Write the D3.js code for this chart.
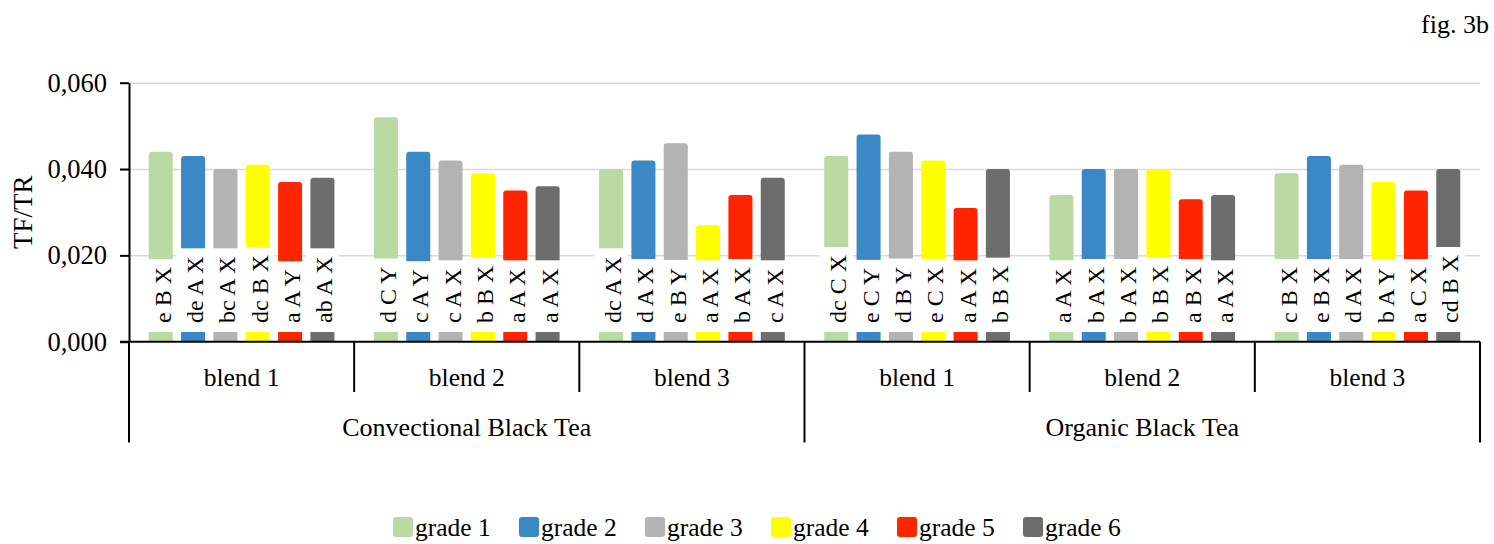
<!DOCTYPE html>
<html>
<head>
    <meta charset="utf-8">
    <title>fig. 3b TF/TR</title>
    <script src="https://d3js.org/d3.v7.min.js"></script>
    <style>
        body { margin: 0; background: #fff; }
        svg text { font-family: "Liberation Serif", "Times New Roman", serif; fill: #000; }
        .grid line { stroke: #d9d9d9; stroke-width: 1.5px; }
        .grid path { display: none; }
    </style>
</head>
<body>
    <div id="chart"></div>

    <script>
        // 数据
        const teaTypes = ["Convectional Black Tea", "Organic Black Tea"];
        const blends = ["blend 1", "blend 2", "blend 3"];
        const grades = ["grade 1", "grade 2", "grade 3", "grade 4", "grade 5", "grade 6"];
        const colors = ["#bbd9a3", "#3a88c5", "#b3b3b3", "#ffff00", "#ff2500", "#6d6d6d"];

        // 每组 grade 1..6 的 TF/TR 值
        const conv1 = [0.044, 0.043, 0.040, 0.041, 0.037, 0.038];
        const conv2 = [0.052, 0.044, 0.042, 0.039, 0.035, 0.036];
        const conv3 = [0.040, 0.042, 0.046, 0.027, 0.034, 0.038];
        const org1 = [0.043, 0.048, 0.044, 0.042, 0.031, 0.040];
        const org2 = [0.034, 0.040, 0.040, 0.040, 0.033, 0.034];
        const org3 = [0.039, 0.043, 0.041, 0.037, 0.035, 0.040];

        // 显著性字母
        const lab1 = ["e B X", "de A X", "bc A X", "dc B X", "a A Y", "ab A X"];
        const lab2 = ["d C Y", "c A Y", "c A X", "b B X", "a A X", "a A X"];
        const lab3 = ["dc A X", "d A X", "e B Y", "a A X", "b A X", "c A X"];
        const lab4 = ["dc C X", "e C Y", "d B Y", "e C X", "a A X", "b B X"];
        const lab5 = ["a A X", "b A X", "b A X", "b B X", "a B X", "a A X"];
        const lab6 = ["c B X", "e B X", "d A X", "b A Y", "a C X", "cd B X"];

        const yTicks = [0, 0.02, 0.04, 0.06];

        const groups = [
            { tea: teaTypes[0], blend: blends[0], values: conv1, labels: lab1 },
            { tea: teaTypes[0], blend: blends[1], values: conv2, labels: lab2 },
            { tea: teaTypes[0], blend: blends[2], values: conv3, labels: lab3 },
            { tea: teaTypes[1], blend: blends[0], values: org1, labels: lab4 },
            { tea: teaTypes[1], blend: blends[1], values: org2, labels: lab5 },
            { tea: teaTypes[1], blend: blends[2], values: org3, labels: lab6 }
        ];
        groups.forEach((g, i) => g.key = "g" + i);

        const width = 1494;
        const height = 544;
        const plotLeft = 129, plotRight = 1480, plotTop = 82.7, base = 341.7;

        const svg = d3.select("#chart")
            .append("svg")
            .attr("width", width)
            .attr("height", height);

        const x0 = d3.scaleBand()
            .domain(groups.map(d => d.key))
            .range([plotLeft, plotRight])
            .padding(0);

        const x1 = d3.scaleBand()
            .domain(grades)
            .range([0, x0.bandwidth()])
            .paddingInner(0.257)
            .paddingOuter(0.61);

        const y = d3.scaleLinear()
            .domain([0, 0.06])
            .range([base, plotTop]);

        const fmt = v => d3.format(".3f")(v).replace(".", ",");

        // 网格线
        svg.append("g")
            .attr("class", "grid")
            .attr("transform", `translate(${plotLeft},0)`)
            .call(d3.axisLeft(y).tickValues(yTicks.slice(1)).tickSize(-(plotRight - plotLeft)).tickFormat(""));

        // 柱子
        const bars = svg.append("g")
            .selectAll("g")
            .data(groups)
            .join("g")
            .attr("transform", d => `translate(${x0(d.key)},0)`);

        bars.selectAll("path")
            .data(d => d.values.map((v, i) => ({ v, i })))
            .join("path")
            .attr("fill", d => colors[d.i])
            .attr("d", d => {
                const x = x1(grades[d.i]), w = x1.bandwidth(), yt = y(d.v), r = 3;
                return `M${x},${base}V${yt + r}Q${x},${yt} ${x + r},${yt}H${x + w - r}Q${x + w},${yt} ${x + w},${yt + r}V${base}Z`;
            });

        // 标签（白底）
        const labelFont = 24;
        const boxBottom = 332;
        const labelG = bars.selectAll("g.lab")
            .data(d => d.labels.map((t, i) => ({ t, i })))
            .join("g")
            .attr("class", "lab");

        labelG.append("rect").attr("fill", "#fff");
        labelG.append("text")
            .attr("font-size", labelFont)
            .attr("transform", d => `translate(${x1(grades[d.i]) + x1.bandwidth() / 2 + 10},${boxBottom - 9}) rotate(-90)`)
            .text(d => d.t);

        labelG.each(function(d) {
            const g = d3.select(this);
            const len = g.select("text").node().getComputedTextLength();
            const cx = x1(grades[d.i]) + x1.bandwidth() / 2;
            g.select("rect")
                .attr("x", cx - x1.step() / 2 - 0.5)
                .attr("width", x1.step() + 1)
                .attr("y", boxBottom - len - 17)
                .attr("height", len + 17);
        });

        // Y 轴
        const yAxis = svg.append("g")
            .attr("transform", `translate(${plotLeft},0)`)
            .call(d3.axisLeft(y).tickValues(yTicks).tickSize(9).tickSizeOuter(0).tickPadding(13).tickFormat(fmt));
        yAxis.select(".domain").attr("stroke", "#000").attr("stroke-width", 2);
        yAxis.selectAll(".tick line").attr("stroke", "#000").attr("stroke-width", 2);
        yAxis.selectAll(".tick text")
            .attr("font-size", 26.5)
            .attr("font-family", "Liberation Serif, serif")
            .attr("fill", "#000");

        svg.append("text")
            .attr("transform", `translate(32,${(plotTop + base) / 2}) rotate(-90)`)
            .attr("text-anchor", "middle")
            .attr("font-size", 27)
            .text("TF/TR");

        // 分类轴（两层）
        const axisG = svg.append("g").attr("stroke", "#000").attr("stroke-width", 2);
        axisG.append("line")
            .attr("x1", plotLeft - 9).attr("x2", plotRight)
            .attr("y1", base).attr("y2", base);

        const bounds = groups.map(d => x0(d.key)).concat([plotRight]);
        bounds.forEach((bx, i) => {
            const outer = (i % 3 === 0);
            axisG.append("line")
                .attr("x1", bx).attr("x2", bx)
                .attr("y1", base).attr("y2", outer ? 442.5 : 392);
        });

        svg.append("g")
            .selectAll("text")
            .data(groups)
            .join("text")
            .attr("x", d => x0(d.key) + x0.bandwidth() / 2)
            .attr("y", 386)
            .attr("text-anchor", "middle")
            .attr("font-size", 25.5)
            .text(d => d.blend);

        svg.append("g")
            .selectAll("text")
            .data(teaTypes)
            .join("text")
            .attr("x", (d, i) => (bounds[i * 3] + bounds[i * 3 + 3]) / 2)
            .attr("y", 436)
            .attr("text-anchor", "middle")
            .attr("font-size", 26)
            .text(d => d);

        // 图例
        const legend = svg.append("g").attr("transform", "translate(393,517)");
        grades.forEach((gr, i) => {
            const row = legend.append("g").attr("transform", `translate(${i * 126},0)`);
            row.append("rect")
                .attr("width", 20).attr("height", 20)
                .attr("rx", 3)
                .attr("fill", colors[i]);
            row.append("text")
                .attr("x", 22).attr("y", 19)
                .attr("font-size", 25.5)
                .text(gr);
        });

        // 图号
        svg.append("text")
            .attr("x", 1489)
            .attr("y", 33)
            .attr("text-anchor", "end")
            .attr("font-size", 26)
            .text("fig. 3b");
    </script>
</body>
</html>
